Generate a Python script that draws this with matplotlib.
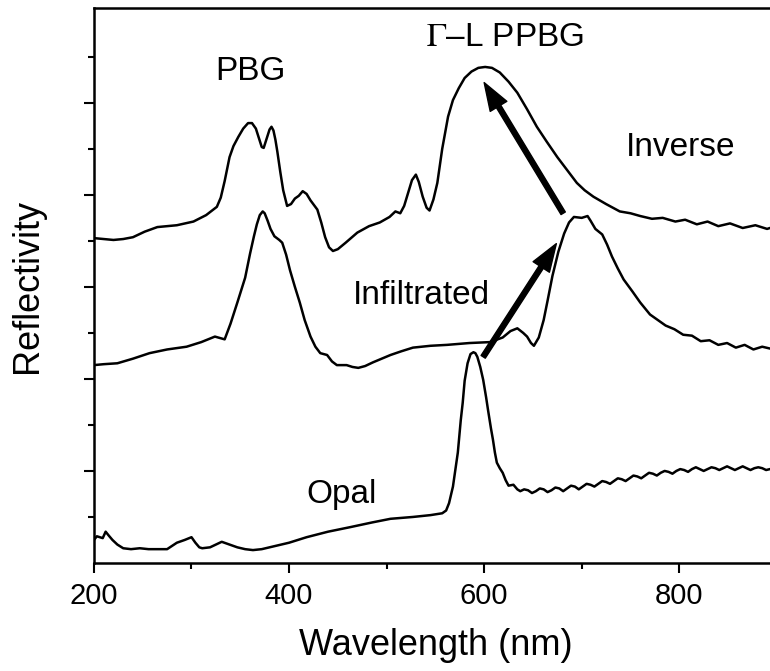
import matplotlib
matplotlib.use('Agg')
import matplotlib.pyplot as plt

# spectra: (wavelength nm, reflectivity in arbitrary offset units)
inverse = [(200, 3.53), (210, 3.52), (220, 3.51), (230, 3.52), (240, 3.54), (252, 3.60),
           (265, 3.65), (285, 3.67), (302, 3.71), (315, 3.78), (326, 3.87), (330, 3.97),
           (334, 4.15), (339, 4.41), (343, 4.53), (348, 4.63), (353, 4.72), (358, 4.78),
           (362, 4.78), (366, 4.72), (369, 4.62), (372, 4.52), (374, 4.51), (377, 4.61),
           (380, 4.71), (382, 4.74), (384, 4.70), (386, 4.60), (388, 4.47), (391, 4.25),
           (394, 4.05), (398, 3.88), (402, 3.90), (406, 3.96), (410, 3.99), (414, 4.04),
           (418, 4.01), (422, 3.94), (429, 3.84), (433, 3.70), (437, 3.54), (441, 3.43),
           (445, 3.39), (450, 3.41), (458, 3.48), (470, 3.59), (482, 3.66), (493, 3.70),
           (503, 3.76), (509, 3.82), (514, 3.80), (518, 3.88), (522, 4.02), (526, 4.16),
           (530, 4.22), (533, 4.14), (537, 3.98), (541, 3.86), (544, 3.83), (548, 3.95),
           (552, 4.13), (557, 4.50), (563, 4.85), (568, 5.03), (574, 5.16), (580, 5.27),
           (587, 5.34), (594, 5.38), (601, 5.39), (608, 5.38), (616, 5.33), (625, 5.23),
           (634, 5.11), (644, 4.93), (654, 4.74), (664, 4.58), (675, 4.41), (685, 4.27),
           (695, 4.13), (703, 4.05), (712, 3.98), (725, 3.90), (739, 3.82), (750, 3.80),
           (760, 3.77), (772, 3.74), (783, 3.75), (796, 3.71), (806, 3.73), (818, 3.68),
           (829, 3.71), (840, 3.66), (852, 3.69), (865, 3.64), (878, 3.67), (890, 3.63),
           (893, 3.64)]

infiltrated = [(200, 2.15), (210, 2.16), (224, 2.17), (240, 2.22), (257, 2.28), (275, 2.32),
               (295, 2.35), (310, 2.40), (324, 2.46), (334, 2.43), (340, 2.60), (347, 2.83),
               (355, 3.10), (360, 3.36), (364, 3.55), (367, 3.68), (370, 3.78), (373, 3.82),
               (375, 3.80), (378, 3.72), (381, 3.63), (385, 3.55), (390, 3.51), (393, 3.48),
               (397, 3.35), (401, 3.18), (406, 3.00), (411, 2.83), (416, 2.64), (422, 2.46),
               (427, 2.35), (432, 2.28), (439, 2.26), (444, 2.19), (449, 2.15), (459, 2.15),
               (465, 2.13), (471, 2.12), (478, 2.14), (486, 2.18), (495, 2.22), (504, 2.26),
               (515, 2.30), (527, 2.34), (545, 2.36), (562, 2.37), (585, 2.39), (606, 2.40),
               (619, 2.45), (627, 2.52), (634, 2.55), (640, 2.50), (644, 2.46), (648, 2.39),
               (651, 2.36), (656, 2.45), (661, 2.64), (665, 2.85), (670, 3.12), (676, 3.38),
               (682, 3.58), (687, 3.70), (692, 3.76), (700, 3.75), (706, 3.77), (709, 3.72),
               (714, 3.63), (721, 3.57), (726, 3.46), (731, 3.33), (737, 3.20), (743, 3.08),
               (752, 2.95), (760, 2.83), (770, 2.70), (778, 2.64), (786, 2.58), (795, 2.54),
               (804, 2.48), (813, 2.47), (822, 2.41), (831, 2.42), (840, 2.37), (849, 2.39),
               (858, 2.34), (867, 2.37), (876, 2.32), (885, 2.35), (893, 2.33)]

opal = [(200, 0.25), (203, 0.29), (206, 0.28), (209, 0.27), (212, 0.34), (215, 0.30),
        (219, 0.25), (224, 0.20), (230, 0.16), (238, 0.15), (247, 0.16), (256, 0.15),
        (265, 0.15), (275, 0.15), (285, 0.22), (293, 0.25), (300, 0.28), (304, 0.22),
        (308, 0.17), (311, 0.16), (319, 0.17), (325, 0.20), (331, 0.23), (339, 0.20),
        (347, 0.17), (355, 0.15), (363, 0.14), (372, 0.15), (380, 0.17), (400, 0.22),
        (418, 0.28), (440, 0.34), (463, 0.39), (485, 0.44), (504, 0.48), (527, 0.50),
        (545, 0.52), (557, 0.54), (561, 0.57), (564, 0.65), (568, 0.83), (571, 1.05),
        (573, 1.20), (576, 1.55), (578, 1.74), (580, 1.98), (583, 2.17), (586, 2.27),
        (589, 2.29), (591, 2.28), (593, 2.24), (596, 2.13), (599, 1.99), (602, 1.80),
        (604, 1.66), (607, 1.46), (609, 1.34), (611, 1.20), (613, 1.09), (616, 1.03),
        (619, 0.98), (622, 0.90), (625, 0.84), (630, 0.85), (634, 0.80), (637, 0.78),
        (641, 0.80), (645, 0.79), (649, 0.76), (653, 0.78), (657, 0.81), (661, 0.80),
        (665, 0.77), (669, 0.79), (673, 0.82), (677, 0.81), (681, 0.78), (685, 0.81),
        (689, 0.84), (693, 0.83), (697, 0.80), (701, 0.83), (705, 0.86), (709, 0.85),
        (713, 0.83), (717, 0.86), (721, 0.89), (725, 0.88), (729, 0.86), (733, 0.89),
        (737, 0.92), (741, 0.91), (745, 0.89), (749, 0.92), (753, 0.95), (757, 0.94),
        (761, 0.92), (765, 0.95), (769, 0.98), (773, 0.97), (777, 0.95), (781, 0.98),
        (785, 1.00), (789, 0.99), (793, 0.97), (797, 1.00), (801, 1.02), (805, 1.01),
        (809, 0.99), (813, 1.02), (817, 1.04), (821, 1.02), (825, 1.00), (829, 1.02),
        (833, 1.04), (837, 1.03), (841, 1.01), (845, 1.03), (849, 1.05), (853, 1.03),
        (857, 1.01), (861, 1.03), (865, 1.05), (869, 1.03), (873, 1.01), (877, 1.03),
        (881, 1.04), (885, 1.03), (889, 1.01), (893, 1.02)]

x_ticks = [200, 400, 600, 800]

FONT = 'Liberation Sans'
plt.rcParams['font.family'] = [FONT, 'DejaVu Sans']
plt.rcParams['mathtext.fontset'] = 'stix'

fig = plt.figure(figsize=(7.7, 6.71), dpi=100)
ax = fig.add_axes([0.122, 0.161, 0.878, 0.827])

for series in [inverse, infiltrated, opal]:
    xs, ys = zip(*series)
    ax.plot(xs, ys, color='black', lw=1.8, solid_joinstyle='round')

ax.set_xlim(200, 893)
ax.set_ylim(0, 6.03)
ax.set_xticks(x_ticks)
ax.set_xticks(range(300, 900, 200), minor=True)
ax.set_yticks([1, 2, 3, 4, 5])
ax.set_yticks([0.5, 1.5, 2.5, 3.5, 4.5, 5.5], minor=True)
ax.set_yticklabels([])
ax.tick_params(which='major', direction='out', length=7, width=1.5, labelsize=21, pad=7)
ax.tick_params(which='minor', direction='out', length=4, width=1.5)
ax.spines['right'].set_visible(False)
for s in ['left', 'bottom', 'top']:
    ax.spines[s].set_linewidth(1.8)

ax.set_xlabel('Wavelength (nm)', fontsize=26, va='top')
ax.xaxis.set_label_coords(0.505, -0.118)
ax.set_ylabel('Reflectivity', fontsize=26)
ax.yaxis.set_label_coords(-0.072, 0.5)

ax.text(360, 5.34, 'PBG', fontsize=24, ha='center', va='center')
ax.text(621, 5.71, r'$\Gamma$' + '\u2013L PPBG', fontsize=24, ha='center', va='center')
ax.text(801, 4.52, 'Inverse', fontsize=24, ha='center', va='center')
ax.text(536, 2.91, 'Infiltrated', fontsize=24, ha='center', va='center')
ax.text(454, 0.74, 'Opal', fontsize=24, ha='center', va='center')

arrow = dict(facecolor='black', edgecolor='black', width=3.6, headwidth=14,
             headlength=20, shrink=0)
ax.annotate('', xy=(674, 3.47), xytext=(599, 2.24), arrowprops=arrow)
ax.annotate('', xy=(600, 5.22), xytext=(681, 3.80), arrowprops=arrow)

fig.savefig('out.png', dpi=100)
